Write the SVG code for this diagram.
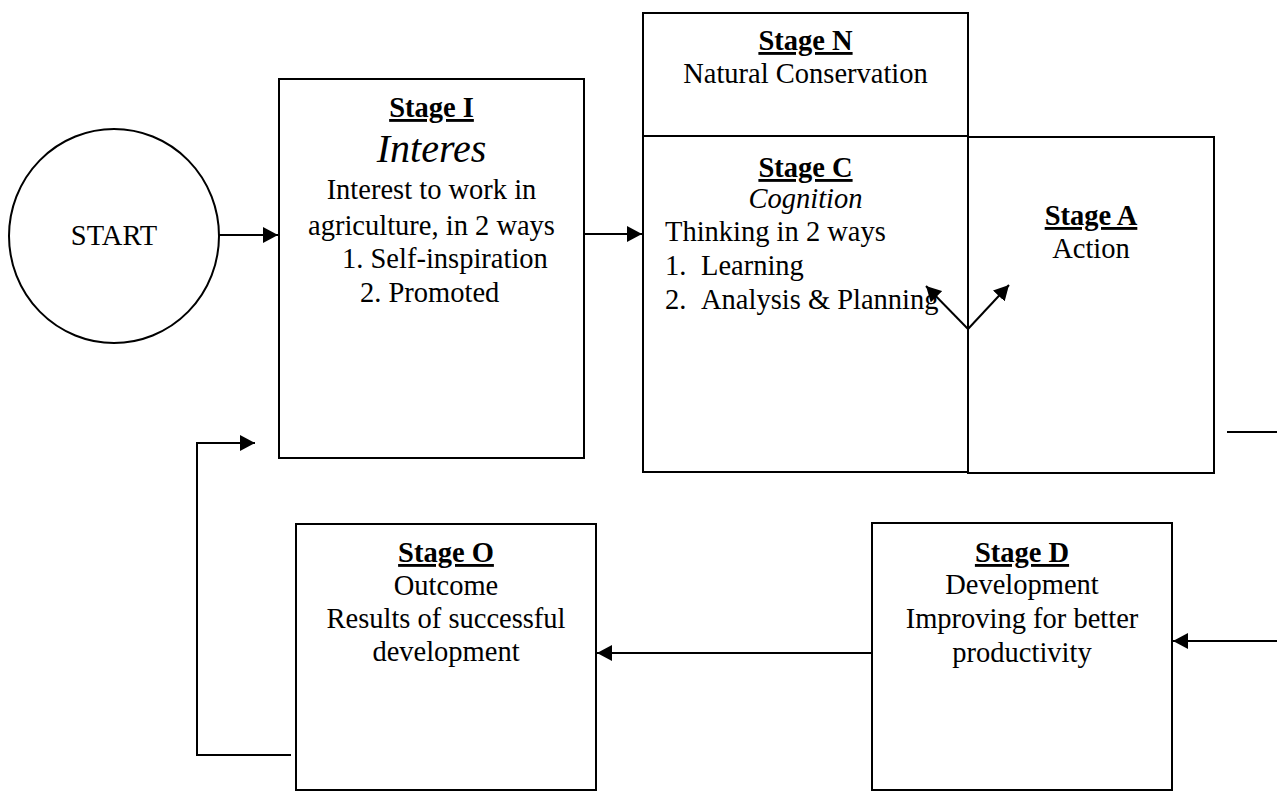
<svg xmlns="http://www.w3.org/2000/svg" width="1277" height="791" viewBox="0 0 1277 791">
<style>
  .box{fill:#fff;stroke:#000;stroke-width:2}
  .t{font-family:"Liberation Serif","Times New Roman",serif;font-size:28.5px;fill:#000}
  .c{text-anchor:middle}
  .h{font-weight:bold;text-decoration:underline}
  .i{font-style:italic}
  .ln{fill:none;stroke:#000;stroke-width:2}
</style>
<defs>
  <marker id="arr" markerUnits="userSpaceOnUse" markerWidth="16" markerHeight="16" refX="15" refY="8" orient="auto">
    <path d="M0,0 L15,8 L0,16 z" fill="#000"/>
  </marker>
</defs>
<rect width="1277" height="791" fill="#fff"/>
<g id="start">
  <ellipse cx="114" cy="236" rx="105" ry="107" fill="#fff" stroke="#000" stroke-width="2"/>
  <text class="t c" x="114" y="245">START</text>
</g>
<g id="stageI">
  <rect class="box" x="279" y="79" width="305" height="379"/>
  <text class="t c h" x="431.5" y="117">Stage I</text>
  <text class="t c i" x="431.5" y="162" style="font-size:40px">Interes</text>
  <text class="t c" x="431.5" y="199">Interest to work in</text>
  <text class="t c" x="431.5" y="235">agriculture, in 2 ways</text>
  <text class="t" x="342" y="268">1. Self-inspiration</text>
  <text class="t" x="360" y="302">2. Promoted</text>
</g>
<g id="stageN">
  <rect class="box" x="643" y="13" width="325" height="123"/>
  <text class="t c h" x="805.5" y="50">Stage N</text>
  <text class="t c" x="805.5" y="83">Natural Conservation</text>
</g>
<g id="stageC">
  <rect class="box" x="643" y="136" width="325" height="336"/>
  <text class="t c h" x="805.5" y="177">Stage C</text>
  <text class="t c i" x="805.5" y="208">Cognition</text>
  <text class="t" x="665" y="241">Thinking in 2 ways</text>
  <text class="t" x="665" y="275">1.</text>
  <text class="t" x="701" y="275">Learning</text>
  <text class="t" x="665" y="309">2.</text>
  <text class="t" x="701" y="309">Analysis &amp; Planning</text>
</g>
<g id="stageA">
  <rect class="box" x="968" y="137" width="246" height="336"/>
  <text class="t c h" x="1091" y="225">Stage A</text>
  <text class="t c" x="1091" y="258">Action</text>
</g>
<g id="stageD">
  <rect class="box" x="872" y="523" width="300" height="267"/>
  <text class="t c h" x="1022" y="562">Stage D</text>
  <text class="t c" x="1022" y="594">Development</text>
  <text class="t c" x="1022" y="628">Improving for better</text>
  <text class="t c" x="1022" y="662">productivity</text>
</g>
<g id="stageO">
  <rect class="box" x="296" y="524" width="300" height="266"/>
  <text class="t c h" x="446" y="562">Stage O</text>
  <text class="t c" x="446" y="595">Outcome</text>
  <text class="t c" x="446" y="628">Results of successful</text>
  <text class="t c" x="446" y="661">development</text>
</g>
<g id="connectors">
  <line class="ln" x1="219" y1="235" x2="278" y2="235" marker-end="url(#arr)"/>
  <line class="ln" x1="584" y1="234" x2="642" y2="234" marker-end="url(#arr)"/>
  <line class="ln" x1="968" y1="329" x2="926" y2="286" marker-end="url(#arr)"/>
  <line class="ln" x1="968" y1="329" x2="1009" y2="285" marker-end="url(#arr)"/>
  <line class="ln" x1="1227" y1="432" x2="1277" y2="432"/>
  <line class="ln" x1="1277" y1="641" x2="1173" y2="641" marker-end="url(#arr)"/>
  <line class="ln" x1="872" y1="653" x2="597" y2="653" marker-end="url(#arr)"/>
  <polyline class="ln" points="291,755 197,755 197,443 255,443" marker-end="url(#arr)"/>
</g>
</svg>
